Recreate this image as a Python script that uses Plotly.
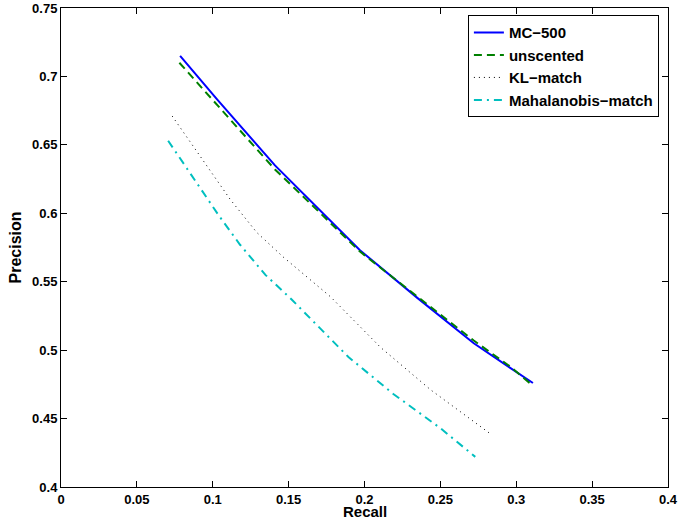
import plotly.graph_objects as go

mc_x = [0.0785, 0.103, 0.141, 0.171, 0.197, 0.235, 0.272, 0.296, 0.311]
mc_y = [0.715, 0.683, 0.635, 0.602, 0.573, 0.538, 0.505, 0.487, 0.476]

un_x = [0.078, 0.103, 0.141, 0.171, 0.197, 0.235, 0.272, 0.296, 0.311]
un_y = [0.710, 0.679, 0.632, 0.600, 0.572, 0.539, 0.507, 0.488, 0.474]

kl_x = [0.0733, 0.0937, 0.1116, 0.129, 0.1465, 0.1776, 0.2106, 0.2436, 0.284]
kl_y = [0.671, 0.638, 0.610, 0.586, 0.568, 0.539, 0.502, 0.471, 0.438]

mh_x = [0.0706, 0.0884, 0.1036, 0.118, 0.1347, 0.152, 0.1894, 0.219, 0.25, 0.273]
mh_y = [0.653, 0.624, 0.599, 0.577, 0.555, 0.537, 0.495, 0.468, 0.443, 0.422]

x_ticks = [0, 0.05, 0.1, 0.15, 0.2, 0.25, 0.3, 0.35, 0.4]
x_labels = ["0", "0.05", "0.1", "0.15", "0.2", "0.25", "0.3", "0.35", "0.4"]
y_ticks = [0.4, 0.45, 0.5, 0.55, 0.6, 0.65, 0.7, 0.75]
y_labels = ["0.4", "0.45", "0.5", "0.55", "0.6", "0.65", "0.7", "0.75"]

fig = go.Figure()
fig.add_trace(go.Scatter(x=mc_x, y=mc_y, mode="lines", name="MC\u2212500",
                         line=dict(color="#0000ff", width=2)))
fig.add_trace(go.Scatter(x=un_x, y=un_y, mode="lines", name="unscented",
                         line=dict(color="#008000", width=2, dash="8px,5px")))
fig.add_trace(go.Scatter(x=kl_x, y=kl_y, mode="lines", name="KL\u2212match",
                         line=dict(color="#000000", width=1, dash="1px,4px")))
fig.add_trace(go.Scatter(x=mh_x, y=mh_y, mode="lines", name="Mahalanobis\u2212match",
                         line=dict(color="#00bfbf", width=2, dash="8px,5px,2px,5px")))

font_bold = "Liberation Sans"
axis_common = dict(
    showline=True, linecolor="black", linewidth=1, mirror="ticks",
    ticks="inside", ticklen=6, tickcolor="black", showgrid=False, zeroline=False,
    automargin=False,
    tickfont=dict(family=font_bold, size=13, color="black", weight="bold"),
)

fig.update_xaxes(range=[0, 0.4], tickvals=x_ticks, ticktext=x_labels, **axis_common)
fig.update_yaxes(range=[0.4, 0.75], tickvals=y_ticks, ticktext=y_labels,
                 title=dict(text="<b>Precision</b>", font=dict(family=font_bold, size=16, color="black"), standoff=6),
                 **axis_common)

fig.add_annotation(text="<b>Recall</b>", xref="paper", yref="paper", x=0.5, y=-0.052,
                   xanchor="center", yanchor="middle", showarrow=False,
                   font=dict(family=font_bold, size=15, color="black"))

fig.update_layout(
    width=688, height=519,
    margin=dict(l=61, r=20, t=8, b=32),
    paper_bgcolor="white", plot_bgcolor="white",
    showlegend=True,
    legend=dict(x=0.985, y=0.985, xanchor="right", yanchor="top",
                bgcolor="white", bordercolor="black", borderwidth=1,
                font=dict(family=font_bold, size=15, color="black", weight="bold"),
                tracegroupgap=0, itemwidth=30),
)

# remove the default 8px page margin so the figure fills the window exactly
fig.write_html("out.html", config={"displayModeBar": False},
               post_script="document.body.style.margin='0px';")
